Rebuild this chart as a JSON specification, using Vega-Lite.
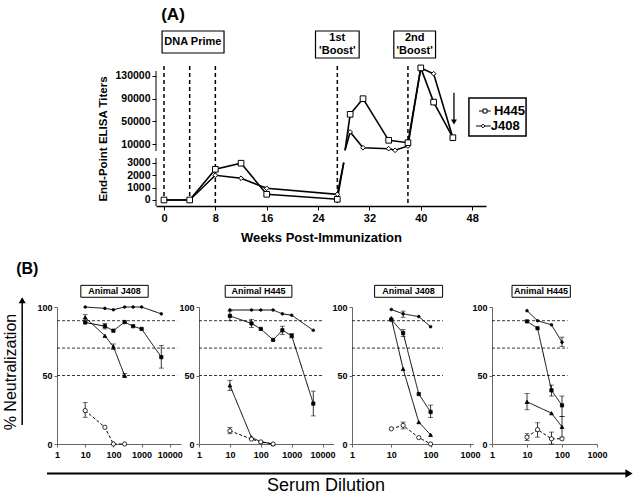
{
"$schema": "https://vega.github.io/schema/vega-lite/v6.json",
"padding": {"left": 3, "top": 5, "right": 0, "bottom": 0},
"background": "white",
"config": {"font": "Liberation Sans", "view": {"stroke": null}, "axis": {"labelFont": "Liberation Sans", "titleFont": "Liberation Sans", "labelColor": "black", "titleColor": "black", "tickColor": "black", "domainColor": "black", "grid": false}, "text": {"font": "Liberation Sans", "color": "black"}},
"datasets": {
"elisa": [
{"animal":"H445","week":0,"v":0,"seg":"lo","mk":true},
{"animal":"H445","week":4,"v":0,"seg":"lo","mk":true},
{"animal":"H445","week":8,"v":2470,"seg":"lo","mk":true},
{"animal":"H445","week":12,"v":2960,"seg":"lo","mk":true},
{"animal":"H445","week":16,"v":460,"seg":"lo","mk":true},
{"animal":"H445","week":27,"v":60,"seg":"lo","mk":true},
{"animal":"H445","week":28,"v":3000,"seg":"lo","mk":false},
{"animal":"J408","week":0,"v":0,"seg":"lo","mk":true},
{"animal":"J408","week":4,"v":0,"seg":"lo","mk":true},
{"animal":"J408","week":8,"v":1990,"seg":"lo","mk":true},
{"animal":"J408","week":12,"v":1750,"seg":"lo","mk":true},
{"animal":"J408","week":16,"v":940,"seg":"lo","mk":true},
{"animal":"J408","week":27,"v":460,"seg":"lo","mk":true},
{"animal":"J408","week":28,"v":3000,"seg":"lo","mk":false},
{"animal":"H445","week":28.2,"v":-500,"seg":"hi","mk":false},
{"animal":"H445","week":29,"v":62600,"seg":"hi","mk":true},
{"animal":"H445","week":31,"v":90000,"seg":"hi","mk":true},
{"animal":"H445","week":35,"v":17000,"seg":"hi","mk":true},
{"animal":"H445","week":38,"v":12800,"seg":"hi","mk":true},
{"animal":"H445","week":40,"v":144000,"seg":"hi","mk":true},
{"animal":"H445","week":42,"v":84000,"seg":"hi","mk":true},
{"animal":"H445","week":45,"v":21600,"seg":"hi","mk":true},
{"animal":"J408","week":28.2,"v":-500,"seg":"hi","mk":false},
{"animal":"J408","week":29,"v":31600,"seg":"hi","mk":true},
{"animal":"J408","week":31,"v":4000,"seg":"hi","mk":true},
{"animal":"J408","week":35,"v":2300,"seg":"hi","mk":true},
{"animal":"J408","week":36,"v":-500,"seg":"hi","mk":true},
{"animal":"J408","week":38,"v":7000,"seg":"hi","mk":true},
{"animal":"J408","week":40,"v":144000,"seg":"hi","mk":true},
{"animal":"J408","week":42,"v":133800,"seg":"hi","mk":true},
{"animal":"J408","week":45,"v":21600,"seg":"hi","mk":true}
],
"neut": [
{"p":1,"s":"a","d":10,"y":100},{"p":1,"s":"a","d":50,"y":99},{"p":1,"s":"a","d":100,"y":98},{"p":1,"s":"a","d":250,"y":100},{"p":1,"s":"a","d":500,"y":100},{"p":1,"s":"a","d":1000,"y":100},{"p":1,"s":"a","d":5000,"y":95},
{"p":1,"s":"b","d":10,"y":88.7},{"p":1,"s":"b","d":50,"y":86},{"p":1,"s":"b","d":100,"y":82.7},{"p":1,"s":"b","d":250,"y":89},{"p":1,"s":"b","d":500,"y":86},{"p":1,"s":"b","d":1000,"y":84},{"p":1,"s":"b","d":5000,"y":63.4},
{"p":1,"s":"c","d":10,"y":92.4},{"p":1,"s":"c","d":50,"y":79},{"p":1,"s":"c","d":100,"y":71},{"p":1,"s":"c","d":250,"y":50},
{"p":1,"s":"d","d":10,"y":24.4},{"p":1,"s":"d","d":50,"y":12.2},{"p":1,"s":"d","d":100,"y":0},{"p":1,"s":"d","d":250,"y":0},
{"p":2,"s":"a","d":10,"y":97.8},{"p":2,"s":"a","d":50,"y":97.8},{"p":2,"s":"a","d":100,"y":97.8},{"p":2,"s":"a","d":250,"y":97.8},{"p":2,"s":"a","d":500,"y":95},{"p":2,"s":"a","d":1000,"y":94},{"p":2,"s":"a","d":5000,"y":83},
{"p":2,"s":"b","d":10,"y":93.5},{"p":2,"s":"b","d":50,"y":88},{"p":2,"s":"b","d":100,"y":84},{"p":2,"s":"b","d":250,"y":76},{"p":2,"s":"b","d":500,"y":83},{"p":2,"s":"b","d":1000,"y":79},{"p":2,"s":"b","d":5000,"y":29.5},
{"p":2,"s":"c","d":10,"y":42.8},{"p":2,"s":"c","d":50,"y":4.8},{"p":2,"s":"c","d":100,"y":1.7},{"p":2,"s":"c","d":250,"y":0},
{"p":2,"s":"d","d":10,"y":9.6},{"p":2,"s":"d","d":50,"y":3.6},{"p":2,"s":"d","d":100,"y":1.5},{"p":2,"s":"d","d":250,"y":0},
{"p":3,"s":"a","d":10,"y":98.2},{"p":3,"s":"a","d":20,"y":95},{"p":3,"s":"a","d":50,"y":93},{"p":3,"s":"a","d":100,"y":85.6},
{"p":3,"s":"b","d":10,"y":90.8},{"p":3,"s":"b","d":20,"y":81},{"p":3,"s":"b","d":50,"y":36.5},{"p":3,"s":"b","d":100,"y":23.4},
{"p":3,"s":"c","d":10,"y":91.9},{"p":3,"s":"c","d":20,"y":54.8},{"p":3,"s":"c","d":50,"y":16},{"p":3,"s":"c","d":100,"y":6.7},
{"p":3,"s":"d","d":10,"y":11.1},{"p":3,"s":"d","d":20,"y":13.6},{"p":3,"s":"d","d":50,"y":4.7},{"p":3,"s":"d","d":100,"y":0},
{"p":4,"s":"a","d":10,"y":97.3},{"p":4,"s":"a","d":20,"y":90},{"p":4,"s":"a","d":50,"y":87},{"p":4,"s":"a","d":100,"y":74.3},
{"p":4,"s":"b","d":10,"y":89.5},{"p":4,"s":"b","d":20,"y":84.5},{"p":4,"s":"b","d":50,"y":39.2},{"p":4,"s":"b","d":100,"y":28.2},
{"p":4,"s":"c","d":10,"y":30.8},{"p":4,"s":"c","d":50,"y":22.5},{"p":4,"s":"c","d":100,"y":12.5},
{"p":4,"s":"d","d":10,"y":5},{"p":4,"s":"d","d":20,"y":10.5},{"p":4,"s":"d","d":50,"y":3.8},{"p":4,"s":"d","d":100,"y":3.8}
],
"err": [
{"p":1,"d":50,"lo":84,"hi":88},{"p":1,"d":5000,"lo":55.4,"hi":71.9},{"p":1,"d":10,"lo":90.4,"hi":94.4},{"p":1,"d":100,"lo":69,"hi":73},{"p":1,"d":250,"lo":48.5,"hi":51.5},{"p":1,"d":10,"lo":19.5,"hi":30.2},
{"p":2,"d":10,"lo":90,"hi":97},{"p":2,"d":50,"lo":85,"hi":91},{"p":2,"d":500,"lo":80,"hi":86},{"p":2,"d":1000,"lo":77.5,"hi":80.5},{"p":2,"d":5000,"lo":20.5,"hi":38.6},{"p":2,"d":10,"lo":39,"hi":46.5},{"p":2,"d":10,"lo":7.5,"hi":12},
{"p":3,"d":20,"lo":92.5,"hi":97},{"p":3,"d":20,"lo":78.5,"hi":83.5},{"p":3,"d":100,"lo":19.3,"hi":28.4},{"p":3,"d":20,"lo":11,"hi":16},
{"p":4,"d":100,"lo":71.3,"hi":78},{"p":4,"d":50,"lo":35,"hi":43},{"p":4,"d":100,"lo":20,"hi":35},{"p":4,"d":10,"lo":25,"hi":36.8},{"p":4,"d":100,"lo":5,"hi":20},{"p":4,"d":10,"lo":2.5,"hi":7.5},{"p":4,"d":20,"lo":5,"hi":15.5},{"p":4,"d":50,"lo":0,"hi":8.7}
]
},
"spacing": 7,
"vconcat": [
{
"hconcat": [
{"width": 99, "height": 10, "data": {"values": [{}]}, "mark": {"type": "text"}, "encoding": {"text": {"value": ""}}},
{
"width": 330, "height": 135,
"resolve": {"scale": {"y": "independent"}, "axis": {"y": "independent"}},
"layer": [
{"layer": [
{"data": {"values": [{"week":0},{"week":4},{"week":8},{"week":27},{"week":38}]}, "mark": {"type": "rule", "strokeDash": [4,3], "strokeWidth": 1.5, "color": "black"},
 "encoding": {"x": {"field":"week","type":"quantitative","scale":{"domain":[-1.246,50.16],"nice":false,"zero":false},"axis":{"values":[0,4,8,12,16,20,24,28,32,36,40,44,48],"labelFontWeight":"bold","labelFontSize":11,"tickSize":4,"domainWidth":1.5,"labelPadding":2,"titleFontSize":13,"titleFontWeight":"bold","titlePadding":8},"title":"Weeks Post-Immunization"},
  "y": {"datum": 147300, "type": "quantitative"}, "y2": {"datum": -98220}}},
{"data": {"values": [{}]}, "mark": {"type": "rule", "strokeWidth": 1, "color": "black"},
 "encoding": {"x": {"datum": -1.246, "type": "quantitative"}, "y": {"datum": 138570, "type": "quantitative"}, "y2": {"datum": -1750}}},
{"data": {"name": "elisa"}, "transform": [{"filter": "datum.seg === 'hi'"}], "mark": {"type": "line", "color": "black", "strokeWidth": 1.6},
 "encoding": {"x": {"field":"week","type":"quantitative","scale":{"domain":[-1.246,50.16],"nice":false,"zero":false},"axis":{"values":[0,4,8,12,16,20,24,28,32,36,40,44,48],"labelFontWeight":"bold","labelFontSize":11,"tickSize":4,"domainWidth":1.5,"labelPadding":2,"titleFontSize":13,"titleFontWeight":"bold","titlePadding":8},"title":"Weeks Post-Immunization"},
  "y": {"field":"v","type":"quantitative","scale":{"domain":[-98220,138570],"nice":false,"zero":false},"axis":{"values":[10000,50000,90000,130000],"format":"d","domain":false,"labelFontWeight":"bold","labelFontSize":10.5,"tickSize":4,"labelPadding":2,"titleFontSize":11.5,"titleFontWeight":"bold","titlePadding":6},"title":"End-Point ELISA Titers"},
  "detail": {"field": "animal"}}},
{"data": {"name": "elisa"}, "transform": [{"filter": "datum.seg === 'hi' && datum.mk && datum.animal === 'J408'"}], "mark": {"type": "point", "shape": "diamond", "filled": true, "fill": "white", "stroke": "black", "strokeWidth": 1, "size": 22, "opacity": 1},
 "encoding": {"x": {"field":"week","type":"quantitative"}, "y": {"field":"v","type":"quantitative","title":"End-Point ELISA Titers"}}},
{"data": {"name": "elisa"}, "transform": [{"filter": "datum.seg === 'hi' && datum.mk && datum.animal === 'H445'"}], "mark": {"type": "point", "shape": "square", "filled": true, "fill": "white", "stroke": "black", "strokeWidth": 1, "size": 32, "opacity": 1},
 "encoding": {"x": {"field":"week","type":"quantitative"}, "y": {"field":"v","type":"quantitative","title":"End-Point ELISA Titers"}}},
{"data": {"values": [{}]}, "mark": {"type": "rect", "fill": "white", "stroke": "black", "strokeWidth": 1.2},
 "encoding": {"x": {"datum": -0.3, "type": "quantitative"}, "x2": {"datum": 9.35}, "y": {"datum": 208700, "type": "quantitative"}, "y2": {"datum": 170100}}},
{"data": {"values": [{}]}, "mark": {"type": "text", "text": "DNA Prime", "fontSize": 11, "fontWeight": "bold"},
 "encoding": {"x": {"datum": 4.5, "type": "quantitative"}, "y": {"datum": 189400, "type": "quantitative"}}},
{"data": {"values": [{}]}, "mark": {"type": "rect", "fill": "white", "stroke": "black", "strokeWidth": 1.2},
 "encoding": {"x": {"datum": 23.6, "type": "quantitative"}, "x2": {"datum": 30.4}, "y": {"datum": 208700, "type": "quantitative"}, "y2": {"datum": 161400}}},
{"data": {"values": [{}]}, "mark": {"type": "text", "text": ["1st", "'Boost'"], "lineHeight": 13, "fontSize": 11, "fontWeight": "bold"},
 "encoding": {"x": {"datum": 27, "type": "quantitative"}, "y": {"datum": 196400, "type": "quantitative"}}},
{"data": {"values": [{}]}, "mark": {"type": "rect", "fill": "white", "stroke": "black", "strokeWidth": 1.2},
 "encoding": {"x": {"datum": 35.8, "type": "quantitative"}, "x2": {"datum": 42.3}, "y": {"datum": 208700, "type": "quantitative"}, "y2": {"datum": 161400}}},
{"data": {"values": [{}]}, "mark": {"type": "text", "text": ["2nd", "'Boost'"], "lineHeight": 13, "fontSize": 11, "fontWeight": "bold"},
 "encoding": {"x": {"datum": 39.05, "type": "quantitative"}, "y": {"datum": 196400, "type": "quantitative"}}},
{"data": {"values": [{}]}, "mark": {"type": "text", "text": "(A)", "fontSize": 17, "fontWeight": "bold"},
 "encoding": {"x": {"datum": 1.4, "type": "quantitative"}, "y": {"datum": 236800, "type": "quantitative"}}},
{"data": {"values": [{}]}, "mark": {"type": "rule", "strokeWidth": 1.3, "color": "black"},
 "encoding": {"x": {"datum": 45.17, "type": "quantitative"}, "y": {"datum": 100500, "type": "quantitative"}, "y2": {"datum": 52600}}},
{"data": {"values": [{}]}, "mark": {"type": "point", "shape": "triangle-down", "filled": true, "color": "black", "size": 35, "opacity": 1},
 "encoding": {"x": {"datum": 45.17, "type": "quantitative"}, "y": {"datum": 49100, "type": "quantitative"}}},
{"data": {"values": [{}]}, "mark": {"type": "rect", "fill": "white", "stroke": "black", "strokeWidth": 1.5},
 "encoding": {"x": {"datum": 47.5, "type": "quantitative"}, "x2": {"datum": 56.4}, "y": {"datum": 91200, "type": "quantitative"}, "y2": {"datum": 24600}}},
{"data": {"values": [{}]}, "mark": {"type": "rule", "strokeWidth": 1, "color": "black"},
 "encoding": {"x": {"datum": 49.07, "type": "quantitative"}, "x2": {"datum": 50.9}, "y": {"datum": 68400, "type": "quantitative"}}},
{"data": {"values": [{}]}, "mark": {"type": "rule", "strokeWidth": 1, "color": "black"},
 "encoding": {"x": {"datum": 48.6, "type": "quantitative"}, "x2": {"datum": 50.9}, "y": {"datum": 42100, "type": "quantitative"}}},
{"data": {"values": [{}]}, "mark": {"type": "point", "shape": "square", "filled": true, "fill": "white", "stroke": "black", "strokeWidth": 1, "size": 16, "opacity": 1},
 "encoding": {"x": {"datum": 50.0, "type": "quantitative"}, "y": {"datum": 68400, "type": "quantitative"}}},
{"data": {"values": [{}]}, "mark": {"type": "point", "shape": "diamond", "filled": true, "fill": "white", "stroke": "black", "strokeWidth": 1, "size": 14, "opacity": 1},
 "encoding": {"x": {"datum": 49.7, "type": "quantitative"}, "y": {"datum": 42100, "type": "quantitative"}}},
{"data": {"values": [{}]}, "mark": {"type": "text", "text": "H445", "fontSize": 13, "fontWeight": "bold", "align": "left", "baseline": "middle"},
 "encoding": {"x": {"datum": 51.4, "type": "quantitative"}, "y": {"datum": 68400, "type": "quantitative"}}},
{"data": {"values": [{}]}, "mark": {"type": "text", "text": "J408", "fontSize": 13, "fontWeight": "bold", "align": "left", "baseline": "middle"},
 "encoding": {"x": {"datum": 50.9, "type": "quantitative"}, "y": {"datum": 42100, "type": "quantitative"}}}
]},
{"layer": [
{"data": {"values": [{}]}, "mark": {"type": "rule", "strokeWidth": 1, "color": "black"},
 "encoding": {"x": {"datum": -1.246, "type": "quantitative"}, "y": {"datum": 3379, "type": "quantitative"}, "y2": {"datum": -483}}},
{"data": {"name": "elisa"}, "transform": [{"filter": "datum.seg === 'lo'"}], "mark": {"type": "line", "color": "black", "strokeWidth": 1.6},
 "encoding": {"x": {"field":"week","type":"quantitative","scale":{"domain":[-1.246,50.16],"nice":false,"zero":false},"axis":{"values":[0,4,8,12,16,20,24,28,32,36,40,44,48],"labelFontWeight":"bold","labelFontSize":11,"tickSize":4,"domainWidth":1.5,"labelPadding":2,"titleFontSize":13,"titleFontWeight":"bold","titlePadding":8},"title":"Weeks Post-Immunization"},
  "y": {"field":"v","type":"quantitative","scale":{"domain":[-483,10378],"nice":false,"zero":false},"axis":{"orient":"left","values":[0,1000,2000,3000],"format":"d","domain":false,"labelFontWeight":"bold","labelFontSize":10.5,"tickSize":4,"labelPadding":2,"title":null},"title":null},
  "detail": {"field": "animal"}}},
{"data": {"name": "elisa"}, "transform": [{"filter": "datum.seg === 'lo' && datum.mk && datum.animal === 'J408'"}], "mark": {"type": "point", "shape": "diamond", "filled": true, "fill": "white", "stroke": "black", "strokeWidth": 1, "size": 22, "opacity": 1},
 "encoding": {"x": {"field":"week","type":"quantitative"}, "y": {"field":"v","type":"quantitative","title":null}}},
{"data": {"name": "elisa"}, "transform": [{"filter": "datum.seg === 'lo' && datum.mk && datum.animal === 'H445'"}], "mark": {"type": "point", "shape": "square", "filled": true, "fill": "white", "stroke": "black", "strokeWidth": 1, "size": 32, "opacity": 1},
 "encoding": {"x": {"field":"week","type":"quantitative"}, "y": {"field":"v","type":"quantitative","title":null}}},
{"data": {"values": [{}]}, "mark": {"type": "text", "text": "(B)", "fontSize": 16, "fontWeight": "bold"},
 "encoding": {"x": {"datum": -21.3, "type": "quantitative"}, "y": {"datum": -5550, "type": "quantitative"}}}
]}
]
}
],
"bounds": "flush", "spacing": 0
},
{
"hconcat": [
{
"width": 124, "height": 137,
"layer": [
{"data": {"values": [{"r":90},{"r":70},{"r":50}]}, "mark": {"type": "rule", "strokeDash": [3,2], "strokeWidth": 0.9, "color": "#222"},
 "encoding": {"x": {"datum": 1, "type": "quantitative", "scale": {"type": "log", "domain": [1, 24960], "nice": false}, "axis": {"values":[1,10,100,1000,10000],"format":"d","labelFontSize":9,"labelFontWeight":"bold","tickSize":3,"labelPadding":3,"domainColor":"#666","tickColor":"#666","labelFlush":false,"labelOverlap":false,"title":null}}, "x2": {"datum": 18300},
  "y": {"field": "r", "type": "quantitative", "scale": {"domain": [0,100], "nice": false}, "axis": {"values":[0,50,100],"labelFontSize":9,"labelFontWeight":"bold","tickSize":3,"labelPadding":2,"domainColor":"#666","tickColor":"#666","title":null}, "title": null}}},
{"data": {"name": "err"}, "transform": [{"filter": "datum.p === 1"}], "mark": {"type": "errorbar", "ticks": {"size": 5}, "color": "black", "thickness": 0.8},
 "encoding": {"x": {"field": "d", "type": "quantitative", "title": null}, "y": {"field": "lo", "type": "quantitative", "title": null}, "y2": {"field": "hi"}}},
{"data": {"name": "neut"}, "transform": [{"filter": "datum.p === 1"}], "mark": {"type": "line", "color": "black", "strokeWidth": 1},
 "encoding": {"x": {"field": "d", "type": "quantitative", "title": null}, "y": {"field": "y", "type": "quantitative", "title": null},
  "strokeDash": {"field": "s", "type": "nominal", "scale": {"domain": ["a","b","c","d"], "range": [[1,0],[1,0],[1,0],[3,2]]}, "legend": null}}},
{"data": {"name": "neut"}, "transform": [{"filter": "datum.p === 1"}], "mark": {"type": "point", "filled": true, "stroke": "black", "strokeWidth": 0.8, "opacity": 1},
 "encoding": {"x": {"field": "d", "type": "quantitative", "title": null}, "y": {"field": "y", "type": "quantitative", "title": null},
  "shape": {"field": "s", "type": "nominal", "scale": {"domain": ["a","b","c","d"], "range": ["circle","square","triangle-up","circle"]}, "legend": null},
  "fill": {"field": "s", "type": "nominal", "scale": {"domain": ["a","b","c","d"], "range": ["black","black","black","white"]}, "legend": null},
  "size": {"field": "s", "type": "ordinal", "scale": {"domain": ["a","b","c","d"], "range": [7,18,14,16]}, "legend": null}}},
{"data": {"values": [{}]}, "mark": {"type": "rect", "fill": "white", "stroke": "black", "strokeWidth": 1},
 "encoding": {"x": {"datum": 7.0, "type": "quantitative"}, "x2": {"datum": 1714}, "y": {"datum": 115.8, "type": "quantitative"}, "y2": {"datum": 107.1}}},
{"data": {"values": [{}]}, "mark": {"type": "text", "text": "Animal  J408", "fontSize": 9, "fontWeight": "bold"},
 "encoding": {"x": {"datum": 109, "type": "quantitative"}, "y": {"datum": 111.5, "type": "quantitative"}}},
{"data": {"values": [{}]}, "mark": {"type": "text", "text": "% Neutralization", "fontSize": 16, "angle": 270},
 "encoding": {"x": {"datum": 0.0238, "type": "quantitative"}, "y": {"datum": 52.5, "type": "quantitative"}}},
{"data": {"values": [{}]}, "mark": {"type": "rule", "strokeWidth": 1.5, "color": "black"},
 "encoding": {"x": {"datum": 0.0583, "type": "quantitative"}, "y": {"datum": 13.9, "type": "quantitative"}, "y2": {"datum": 103}}},
{"data": {"values": [{}]}, "mark": {"type": "point", "shape": "triangle-up", "filled": true, "color": "black", "size": 50, "opacity": 1},
 "encoding": {"x": {"datum": 0.0583, "type": "quantitative"}, "y": {"datum": 104.9, "type": "quantitative"}}}
]
},
{
"width": 134.6, "height": 137,
"layer": [
{"data": {"values": [{"r":90},{"r":70},{"r":50}]}, "mark": {"type": "rule", "strokeDash": [3,2], "strokeWidth": 0.9, "color": "#222"},
 "encoding": {"x": {"datum": 1, "type": "quantitative", "scale": {"type": "log", "domain": [1, 22700], "nice": false}, "axis": {"values":[1,10,100,1000,10000],"format":"d","labelFontSize":9,"labelFontWeight":"bold","tickSize":3,"labelPadding":3,"domainColor":"#666","tickColor":"#666","labelFlush":false,"labelOverlap":false,"title":null}}, "x2": {"datum": 10000},
  "y": {"field": "r", "type": "quantitative", "scale": {"domain": [0,100], "nice": false}, "axis": {"values":[0,50,100],"labelFontSize":9,"labelFontWeight":"bold","tickSize":3,"labelPadding":2,"domainColor":"#666","tickColor":"#666","title":null}, "title": null}}},
{"data": {"name": "err"}, "transform": [{"filter": "datum.p === 2"}], "mark": {"type": "errorbar", "ticks": {"size": 5}, "color": "black", "thickness": 0.8},
 "encoding": {"x": {"field": "d", "type": "quantitative", "title": null}, "y": {"field": "lo", "type": "quantitative", "title": null}, "y2": {"field": "hi"}}},
{"data": {"name": "neut"}, "transform": [{"filter": "datum.p === 2"}], "mark": {"type": "line", "color": "black", "strokeWidth": 1},
 "encoding": {"x": {"field": "d", "type": "quantitative", "title": null}, "y": {"field": "y", "type": "quantitative", "title": null},
  "strokeDash": {"field": "s", "type": "nominal", "scale": {"domain": ["a","b","c","d"], "range": [[1,0],[1,0],[1,0],[3,2]]}, "legend": null}}},
{"data": {"name": "neut"}, "transform": [{"filter": "datum.p === 2"}], "mark": {"type": "point", "filled": true, "stroke": "black", "strokeWidth": 0.8, "opacity": 1},
 "encoding": {"x": {"field": "d", "type": "quantitative", "title": null}, "y": {"field": "y", "type": "quantitative", "title": null},
  "shape": {"field": "s", "type": "nominal", "scale": {"domain": ["a","b","c","d"], "range": ["circle","square","triangle-up","circle"]}, "legend": null},
  "fill": {"field": "s", "type": "nominal", "scale": {"domain": ["a","b","c","d"], "range": ["black","black","black","white"]}, "legend": null},
  "size": {"field": "s", "type": "ordinal", "scale": {"domain": ["a","b","c","d"], "range": [7,18,14,16]}, "legend": null}}},
{"data": {"values": [{}]}, "mark": {"type": "rect", "fill": "white", "stroke": "black", "strokeWidth": 1},
 "encoding": {"x": {"datum": 7.05, "type": "quantitative"}, "x2": {"datum": 1015}, "y": {"datum": 115.8, "type": "quantitative"}, "y2": {"datum": 107.1}}},
{"data": {"values": [{}]}, "mark": {"type": "text", "text": "Animal H445", "fontSize": 9, "fontWeight": "bold"},
 "encoding": {"x": {"datum": 84.3, "type": "quantitative"}, "y": {"datum": 111.5, "type": "quantitative"}}}
]
},
{
"width": 121.3, "height": 137,
"layer": [
{"data": {"values": [{"r":90},{"r":70},{"r":50}]}, "mark": {"type": "rule", "strokeDash": [3,2], "strokeWidth": 0.9, "color": "#222"},
 "encoding": {"x": {"datum": 1, "type": "quantitative", "scale": {"type": "log", "domain": [1, 1221], "nice": false}, "axis": {"values":[1,10,100,1000],"format":"d","labelFontSize":9,"labelFontWeight":"bold","tickSize":3,"labelPadding":3,"domainColor":"#666","tickColor":"#666","labelFlush":false,"labelOverlap":false,"title":null}}, "x2": {"datum": 206},
  "y": {"field": "r", "type": "quantitative", "scale": {"domain": [0,100], "nice": false}, "axis": {"values":[0,50,100],"labelFontSize":9,"labelFontWeight":"bold","tickSize":3,"labelPadding":2,"domainColor":"#666","tickColor":"#666","title":null}, "title": null}}},
{"data": {"name": "err"}, "transform": [{"filter": "datum.p === 3"}], "mark": {"type": "errorbar", "ticks": {"size": 5}, "color": "black", "thickness": 0.8},
 "encoding": {"x": {"field": "d", "type": "quantitative", "title": null}, "y": {"field": "lo", "type": "quantitative", "title": null}, "y2": {"field": "hi"}}},
{"data": {"name": "neut"}, "transform": [{"filter": "datum.p === 3"}], "mark": {"type": "line", "color": "black", "strokeWidth": 1},
 "encoding": {"x": {"field": "d", "type": "quantitative", "title": null}, "y": {"field": "y", "type": "quantitative", "title": null},
  "strokeDash": {"field": "s", "type": "nominal", "scale": {"domain": ["a","b","c","d"], "range": [[1,0],[1,0],[1,0],[3,2]]}, "legend": null}}},
{"data": {"name": "neut"}, "transform": [{"filter": "datum.p === 3"}], "mark": {"type": "point", "filled": true, "stroke": "black", "strokeWidth": 0.8, "opacity": 1},
 "encoding": {"x": {"field": "d", "type": "quantitative", "title": null}, "y": {"field": "y", "type": "quantitative", "title": null},
  "shape": {"field": "s", "type": "nominal", "scale": {"domain": ["a","b","c","d"], "range": ["circle","square","triangle-up","circle"]}, "legend": null},
  "fill": {"field": "s", "type": "nominal", "scale": {"domain": ["a","b","c","d"], "range": ["black","black","black","white"]}, "legend": null},
  "size": {"field": "s", "type": "ordinal", "scale": {"domain": ["a","b","c","d"], "range": [7,18,14,16]}, "legend": null}}},
{"data": {"values": [{}]}, "mark": {"type": "rect", "fill": "white", "stroke": "black", "strokeWidth": 1},
 "encoding": {"x": {"datum": 3.76, "type": "quantitative"}, "x2": {"datum": 202}, "y": {"datum": 115.8, "type": "quantitative"}, "y2": {"datum": 107.1}}},
{"data": {"values": [{}]}, "mark": {"type": "text", "text": "Animal J408", "fontSize": 9, "fontWeight": "bold"},
 "encoding": {"x": {"datum": 27.5, "type": "quantitative"}, "y": {"datum": 111.5, "type": "quantitative"}}}
]
},
{
"width": 105, "height": 137,
"layer": [
{"data": {"values": [{"r":90},{"r":70},{"r":50}]}, "mark": {"type": "rule", "strokeDash": [3,2], "strokeWidth": 0.9, "color": "#222"},
 "encoding": {"x": {"datum": 1, "type": "quantitative", "scale": {"type": "log", "domain": [1, 1000], "nice": false}, "axis": {"values":[1,10,100,1000],"format":"d","labelFontSize":9,"labelFontWeight":"bold","tickSize":3,"labelPadding":3,"domainColor":"#666","tickColor":"#666","labelFlush":false,"labelOverlap":false,"title":null}}, "x2": {"datum": 145},
  "y": {"field": "r", "type": "quantitative", "scale": {"domain": [0,100], "nice": false}, "axis": {"values":[0,50,100],"labelFontSize":9,"labelFontWeight":"bold","tickSize":3,"labelPadding":2,"domainColor":"#666","tickColor":"#666","title":null}, "title": null}}},
{"data": {"name": "err"}, "transform": [{"filter": "datum.p === 4"}], "mark": {"type": "errorbar", "ticks": {"size": 5}, "color": "black", "thickness": 0.8},
 "encoding": {"x": {"field": "d", "type": "quantitative", "title": null}, "y": {"field": "lo", "type": "quantitative", "title": null}, "y2": {"field": "hi"}}},
{"data": {"name": "neut"}, "transform": [{"filter": "datum.p === 4"}], "mark": {"type": "line", "color": "black", "strokeWidth": 1},
 "encoding": {"x": {"field": "d", "type": "quantitative", "title": null}, "y": {"field": "y", "type": "quantitative", "title": null},
  "strokeDash": {"field": "s", "type": "nominal", "scale": {"domain": ["a","b","c","d"], "range": [[1,0],[1,0],[1,0],[3,2]]}, "legend": null}}},
{"data": {"name": "neut"}, "transform": [{"filter": "datum.p === 4"}], "mark": {"type": "point", "filled": true, "stroke": "black", "strokeWidth": 0.8, "opacity": 1},
 "encoding": {"x": {"field": "d", "type": "quantitative", "title": null}, "y": {"field": "y", "type": "quantitative", "title": null},
  "shape": {"field": "s", "type": "nominal", "scale": {"domain": ["a","b","c","d"], "range": ["circle","square","triangle-up","circle"]}, "legend": null},
  "fill": {"field": "s", "type": "nominal", "scale": {"domain": ["a","b","c","d"], "range": ["black","black","black","white"]}, "legend": null},
  "size": {"field": "s", "type": "ordinal", "scale": {"domain": ["a","b","c","d"], "range": [7,18,14,16]}, "legend": null}}},
{"data": {"values": [{}]}, "mark": {"type": "rect", "fill": "white", "stroke": "black", "strokeWidth": 1},
 "encoding": {"x": {"datum": 3.73, "type": "quantitative"}, "x2": {"datum": 173}, "y": {"datum": 115.8, "type": "quantitative"}, "y2": {"datum": 107.1}}},
{"data": {"values": [{}]}, "mark": {"type": "text", "text": "Animal H445", "fontSize": 9, "fontWeight": "bold"},
 "encoding": {"x": {"datum": 25.3, "type": "quantitative"}, "y": {"datum": 111.5, "type": "quantitative"}}}
]
}
],
"bounds": "flush", "spacing": 18
},
{
"width": 582, "height": 30,
"layer": [
{"data": {"values": [{}]}, "mark": {"type": "rule", "strokeWidth": 2, "color": "black"},
 "encoding": {"x": {"datum": -0.0172, "type": "quantitative", "scale": {"domain": [0,1], "nice": false}, "axis": null}, "x2": {"datum": 0.9777}, "y": {"datum": 0.75, "type": "quantitative", "scale": {"domain": [0,1], "nice": false}, "axis": null}}},
{"data": {"values": [{}]}, "mark": {"type": "point", "shape": "triangle-right", "filled": true, "color": "black", "size": 70, "opacity": 1},
 "encoding": {"x": {"datum": 0.9828, "type": "quantitative"}, "y": {"datum": 0.75, "type": "quantitative"}}},
{"data": {"values": [{}]}, "mark": {"type": "text", "text": "Serum Dilution", "fontSize": 18},
 "encoding": {"x": {"datum": 0.4622, "type": "quantitative"}, "y": {"datum": 0.35, "type": "quantitative"}}}
]
}
]
}
